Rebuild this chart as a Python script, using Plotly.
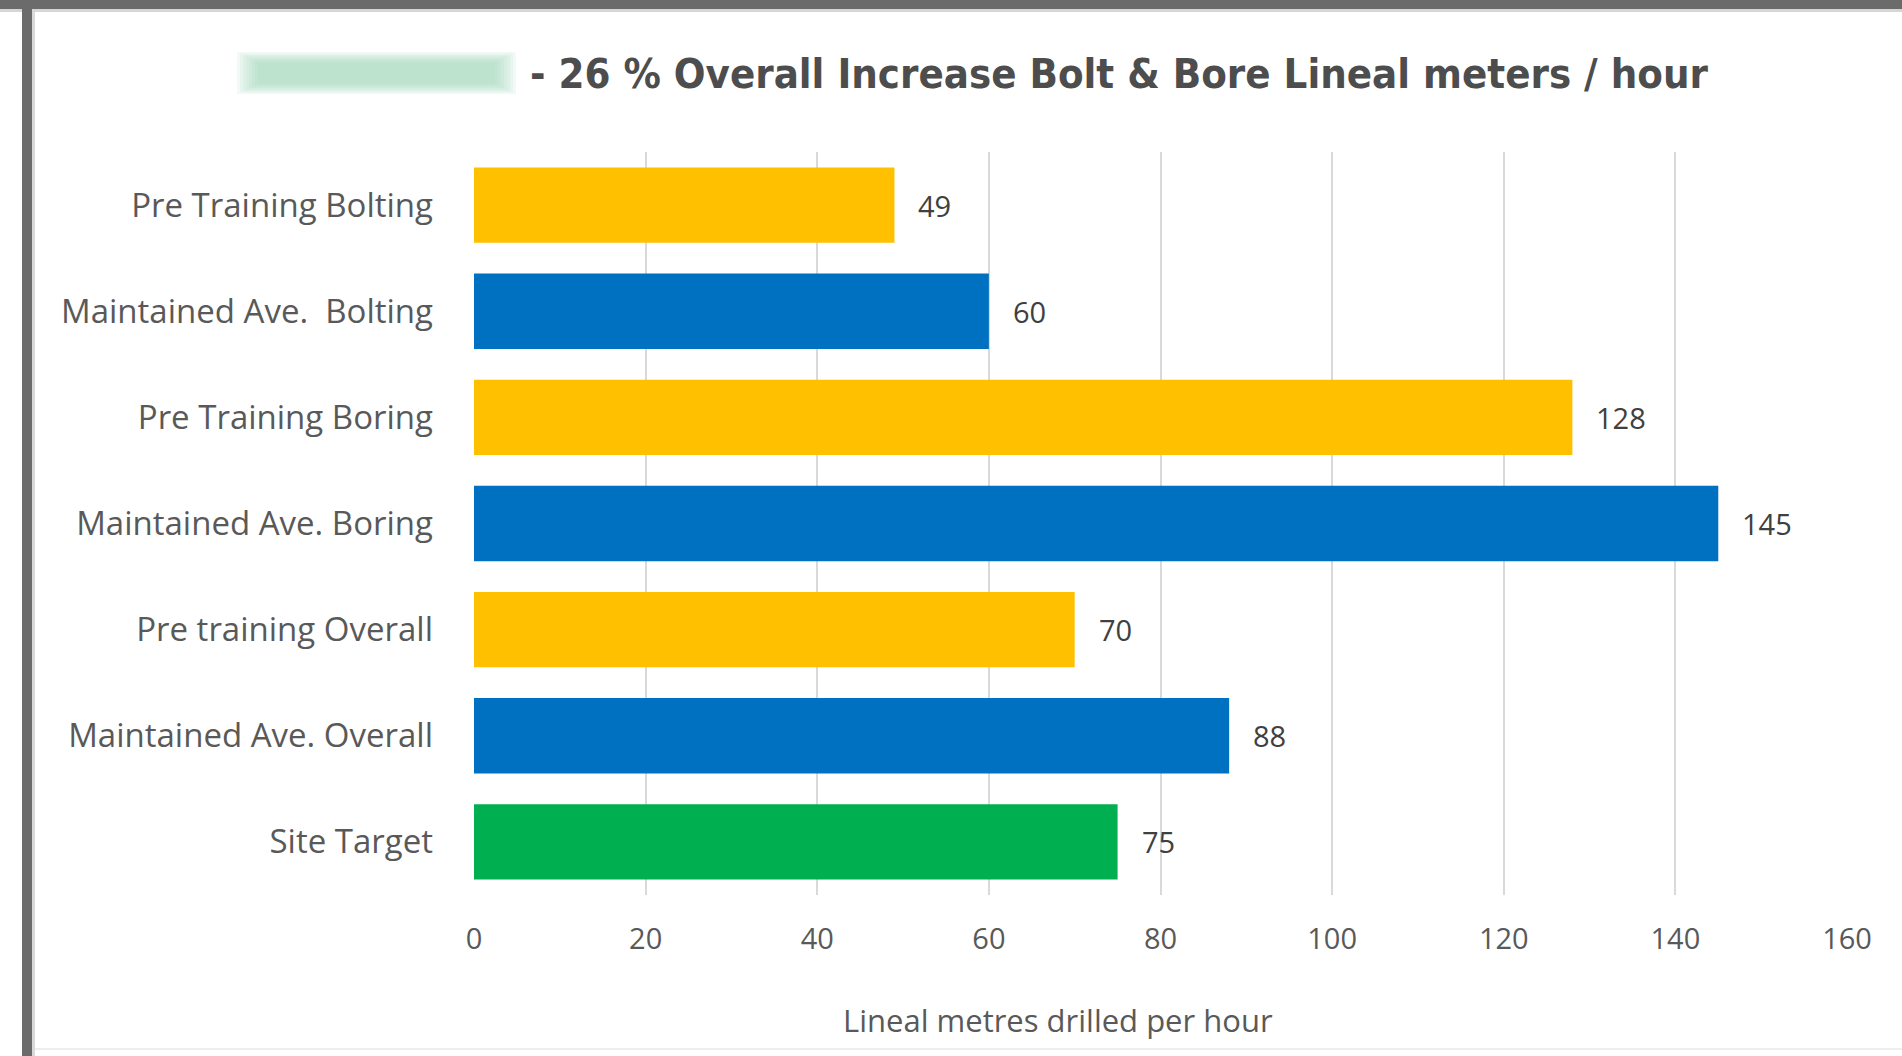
import plotly.graph_objects as go

categories = [
    "Pre Training Bolting",
    "Maintained Ave.  Bolting",
    "Pre Training Boring",
    "Maintained Ave. Boring",
    "Pre training Overall",
    "Maintained Ave. Overall",
    "Site Target",
]
values = [49, 60, 128, 145, 70, 88, 75]
bar_colors = ["#FFC000", "#0070C0", "#FFC000", "#0070C0", "#FFC000", "#0070C0", "#00B050"]
x_ticks = [0, 20, 40, 60, 80, 100, 120, 140, 160]
title_text = "- 26 % Overall Increase Bolt & Bore Lineal meters / hour"
x_title = "Lineal metres drilled per hour"

W, H = 1902, 1056
L, R, T, B = 474, 55, 152, 161
PW = W - L - R
PH = H - T - B


def px(xp):
    return (xp - L) / PW


def py(yp):
    return (H - B - yp) / PH


fig = go.Figure()
fig.add_trace(go.Bar(
    x=values, y=categories, orientation="h",
    marker=dict(color=bar_colors, line=dict(width=0)),
    hoverinfo="x+y", showlegend=False,
))

annotations = []
for c, v in zip(categories, values):
    annotations.append(dict(
        x=v, y=c, xref="x", yref="y", text=str(v), showarrow=False,
        xanchor="left", yanchor="middle", xshift=22,
        font=dict(family="Open Sans, sans-serif", size=29, color="#404040"),
    ))

annotations.append(dict(
    x=px(1058), y=py(1020), xref="paper", yref="paper", text=x_title,
    showarrow=False, xanchor="center", yanchor="middle",
    font=dict(family="Open Sans, sans-serif", size=31, color="#595959"),
))

shapes = []
# blurred redacted name in title (soft mint patch)
for i in range(8):
    s = i * 3
    shapes.append(dict(
        type="rect", xref="paper", yref="paper", layer="above",
        x0=px(237 + s), x1=px(516 - s),
        y0=py(94 - s * 0.5), y1=py(52 + s * 0.5),
        fillcolor="#9fd8b2", opacity=0.12, line=dict(width=0),
    ))
# frame decorations
shapes += [
    dict(type="rect", xref="paper", yref="paper", x0=px(0), x1=px(W), y0=py(0), y1=py(9),
         fillcolor="#6b6b6b", line=dict(width=0), layer="above"),
    dict(type="rect", xref="paper", yref="paper", x0=px(0), x1=px(W), y0=py(9), y1=py(12),
         fillcolor="#d6d6d6", line=dict(width=0), layer="above"),
    dict(type="rect", xref="paper", yref="paper", x0=px(22), x1=px(32), y0=py(0), y1=py(H),
         fillcolor="#6b6b6b", line=dict(width=0), layer="above"),
    dict(type="rect", xref="paper", yref="paper", x0=px(32), x1=px(35), y0=py(12), y1=py(H),
         fillcolor="#d9d9d9", line=dict(width=0), layer="above"),
    dict(type="rect", xref="paper", yref="paper", x0=px(35), x1=px(W), y0=py(1048), y1=py(1050),
         fillcolor="#eeeeee", line=dict(width=0), layer="above"),
]

fig.update_layout(
    width=W, height=H,
    margin=dict(l=L, r=R, t=T, b=B, pad=0),
    paper_bgcolor="white", plot_bgcolor="white",
    bargap=0.29,
    title=dict(
        text=title_text, xref="container", yref="container",
        x=530 / W, y=1 - 73 / H, xanchor="left", yanchor="middle",
        font=dict(family="Liberation Sans Narrow, DejaVu Sans Condensed, Arial Narrow, sans-serif",
                  size=41.5, color="#4d4d4d", weight="bold"),
    ),
    xaxis=dict(
        range=[0, 160], tickvals=x_ticks, ticktext=[str(t) for t in x_ticks],
        showgrid=True, gridcolor="#d9d9d9", gridwidth=2,
        zeroline=False, showline=False, ticks="",
        ticklabelstandoff=24,
        tickfont=dict(family="Open Sans, sans-serif", size=29, color="#595959"),
        fixedrange=True,
    ),
    yaxis=dict(
        categoryorder="array", categoryarray=categories, autorange="reversed",
        showgrid=False, zeroline=False, showline=False, ticks="",
        ticklabelstandoff=40,
        tickfont=dict(family="Open Sans, sans-serif", size=33, color="#595959"),
        fixedrange=True,
    ),
    annotations=annotations,
    shapes=shapes,
)

fig.write_html(
    "out.html",
    config={"displayModeBar": False},
    post_script="document.body.style.margin='0px';document.body.style.overflow='hidden';",
)
